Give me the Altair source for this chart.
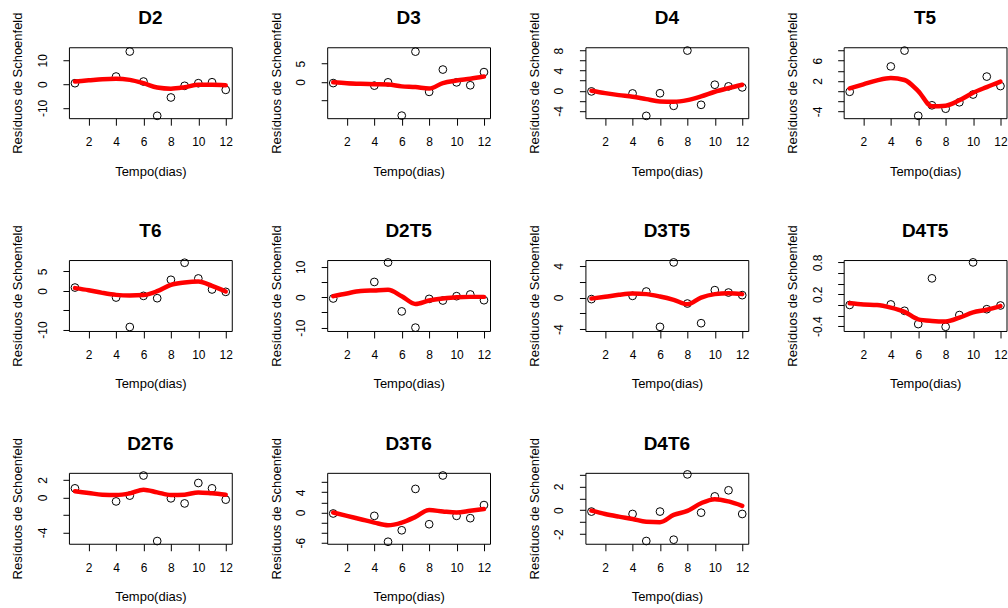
import altair as alt
import pandas as pd

# Tempo (dias) dos eventos e grade da curva suavizada
tempo = [1, 4, 5, 6, 7, 8, 9, 10, 11, 12]
tempo_fit = [1, 2, 3, 4, 5, 6, 7, 8, 9, 10, 11, 12]
eixo_x = [2, 4, 6, 8, 10, 12]

# Resíduos de Schoenfeld (pontos) e curva suavizada (linha vermelha) por covariável
res_d2 = [0.4, 3.2, 13.7, 1.1, -13.3, -5.6, -0.7, 0.4, 0.8, -2.4]
fit_d2 = [1.1, 1.6, 2.1, 2.3, 1.8, 0.4, -1.4, -1.9, -1.3, -0.3, -0.3, -0.5]

res_d3 = [-0.3, -1.0, -0.1, -9.2, 8.3, -2.7, 3.4, -0.1, -0.9, 2.7]
fit_d3 = [-0.1, -0.35, -0.5, -0.6, -0.7, -1.2, -1.4, -1.8, -0.3, 0.4, 0.9, 1.5]

res_d4 = [-0.13, -0.53, -5.0, -0.5, -3.0, 8.0, -2.8, 1.2, 0.87, 0.67]
fit_d4 = [0.0, -0.47, -0.87, -1.2, -1.67, -2.13, -2.2, -1.87, -1.13, -0.2, 0.53, 1.2]

res_t5 = [-0.13, 4.87, 8.0, -4.87, -2.8, -3.47, -2.2, -0.67, 2.87, 1.0]
fit_t5 = [0.53, 1.33, 2.13, 2.6, 2.2, 0.0, -3.0, -2.87, -1.8, -0.33, 0.8, 1.87]

res_t6 = [0.85, -1.73, -9.33, -1.3, -1.9, 2.85, 7.25, 3.2, 0.35, -0.26]
fit_t6 = [0.7, 0.17, -0.52, -1.04, -1.2, -1.1, -0.1, 1.55, 2.15, 2.4, 1.3, -0.17]

res_d2t5 = [-0.43, 5.0, 11.4, -4.67, -10.0, -0.56, -1.1, 0.33, 0.9, -1.0]
fit_d2t5 = [0.33, 1.23, 2.0, 2.23, 2.43, 0.3, -2.23, -1.1, -0.43, 0.0, 0.1, 0.1]

res_d3t5 = [-0.2, 0.21, 0.76, -3.7, 4.43, -0.76, -3.24, 0.93, 0.63, 0.3]
fit_d3t5 = [-0.13, 0.09, 0.34, 0.5, 0.43, 0.13, -0.29, -0.84, 0.0, 0.43, 0.55, 0.43]

res_d4t5 = [0.0, 0.01, -0.11, -0.36, 0.5, -0.41, -0.19, 0.8, -0.08, -0.01]
fit_d4t5 = [0.03, 0.01, 0.0, -0.05, -0.13, -0.27, -0.30, -0.31, -0.24, -0.14, -0.09, -0.02]

res_d2t6 = [1.03, -0.46, 0.2, 2.49, -4.98, -0.11, -0.69, 1.64, 1.03, -0.26]
fit_d2t6 = [0.69, 0.5, 0.31, 0.27, 0.46, 0.88, 0.57, 0.27, 0.31, 0.57, 0.46, 0.31]

res_d3t6 = [-0.2, -0.67, -5.8, -3.53, 4.67, -2.33, 7.33, -0.67, -1.13, 1.47]
fit_d3t6 = [0.0, -0.67, -1.33, -2.0, -2.53, -2.0, -0.87, 0.47, 0.2, 0.0, 0.33, 0.67]

res_d4t6 = [-0.11, -0.31, -2.57, -0.11, -2.46, 3.0, -0.2, 1.16, 1.67, -0.31]
fit_d4t6 = [-0.03, -0.31, -0.53, -0.73, -0.96, -1.0, -0.39, -0.05, 0.59, 0.93, 0.74, 0.37]

# Limites do eixo y, marcas e rótulos exibidos em cada painel
lim_y = {
    "D2": [-14.3, 15.5], "D3": [-9.9, 9.5], "D4": [-5.46, 8.66], "T5": [-5.34, 8.66],
    "T6": [-10.36, 7.95], "D2T5": [-11.1, 12.2], "D3T5": [-4.22, 4.73],
    "D4T5": [-0.489, 0.844], "D2T6": [-5.29, 2.8], "D3T6": [-6.2, 7.86], "D4T6": [-2.8, 3.13],
}
marcas_y = {
    "D2": [-10, 0, 10], "D3": [-10, -5, 0, 5], "D4": [-4, -2, 0, 2, 4, 6, 8],
    "T5": [-4, -2, 0, 2, 4, 6, 8], "T6": [-10, -5, 0, 5], "D2T5": [-10, -5, 0, 5, 10],
    "D3T5": [-4, -2, 0, 2, 4], "D4T5": [-0.4, -0.2, 0, 0.2, 0.4, 0.6, 0.8],
    "D2T6": [-4, -2, 0, 2], "D3T6": [-6, -4, -2, 0, 2, 4, 6], "D4T6": [-2, -1, 0, 1, 2, 3],
}
rotulos_y = {
    "D2": [-10, 0, 10], "D3": [-10, 0, 5], "D4": [-4, 0, 4, 8], "T5": [-4, 2, 6],
    "T6": [-10, 0, 5], "D2T5": [-10, 0, 10], "D3T5": [-4, 0, 4], "D4T5": [-0.4, 0.2, 0.8],
    "D2T6": [-4, 0, 2], "D3T6": [-6, 0, 4], "D4T6": [-2, 0, 2],
}

paineis = [
    ("D2", res_d2, fit_d2), ("D3", res_d3, fit_d3), ("D4", res_d4, fit_d4),
    ("T5", res_t5, fit_t5), ("T6", res_t6, fit_t6), ("D2T5", res_d2t5, fit_d2t5),
    ("D3T5", res_d3t5, fit_d3t5), ("D4T5", res_d4t5, fit_d4t5),
    ("D2T6", res_d2t6, fit_d2t6), ("D3T6", res_d3t6, fit_d3t6), ("D4T6", res_d4t6, fit_d4t6),
]

FONTE = "Liberation Sans"
LARGURA, ALTURA = 163, 71


def painel(nome, res, fit):
    pontos = pd.DataFrame({"tempo": tempo, "residuo": res})
    curva = pd.DataFrame({"tempo": tempo_fit, "residuo": fit})
    titulo = pd.DataFrame({"titulo": [nome]})

    esc_x = alt.Scale(domain=[0.56, 12.44], nice=False, zero=False)
    esc_y = alt.Scale(domain=lim_y[nome], nice=False, zero=False)

    cond = " || ".join(f"abs(datum.value - ({v})) < 1e-9" for v in rotulos_y[nome])
    eixo_y = alt.Axis(
        values=marcas_y[nome], title="Resíduos de Schoenfeld", grid=False, domain=False,
        tickSize=6, tickColor="black", labelAngle=-90, labelAlign="center",
        labelBaseline="middle", labelPadding=20.5, labelExpr=f"({cond}) ? '' + datum.value : ''",
        labelOverlap=False, labelFlush=False, titleX=-47, titleAngle=-90,
        titleBaseline="alphabetic", titleAlign="center",
    )
    eixo_xx = alt.Axis(
        values=eixo_x, title="Tempo(dias)", grid=False, domain=False, tickSize=7,
        tickColor="black", labelBaseline="middle", labelPadding=16.5, labelOverlap=False,
        labelFlush=False, titleY=57, titleBaseline="alphabetic",
    )

    base_x = alt.X("tempo:Q", scale=esc_x, axis=eixo_xx)
    base_y = alt.Y("residuo:Q", scale=esc_y, axis=eixo_y)

    pts = alt.Chart(pontos).mark_point(
        shape="circle", filled=False, color="black", size=60, strokeWidth=1, opacity=1
    ).encode(x=base_x, y=base_y)

    linha = alt.Chart(curva).mark_line(
        color="#FF0000", strokeWidth=4.5, interpolate="monotone", strokeCap="round",
        strokeJoin="round",
    ).encode(x=base_x, y=base_y)

    # título do painel, centrado sobre a área do gráfico
    cab = alt.Chart(titulo).mark_text(
        font=FONTE, fontSize=19, fontWeight="bold", color="black",
        align="center", baseline="alphabetic",
    ).encode(text="titulo:N", x=alt.value(LARGURA / 2), y=alt.value(-23))

    return alt.layer(pts, linha, cab).properties(width=LARGURA, height=ALTURA)


grade = alt.concat(
    *[painel(n, r, f) for n, r, f in paineis],
    columns=4, spacing={"row": 142, "column": 95.5}, bounds="flush",
)

chart = grade.properties(
    padding={"left": 11, "top": 8, "right": 0, "bottom": 0}, background="white"
).configure_view(
    stroke="black", strokeWidth=1
).configure_axis(
    labelFont=FONTE, titleFont=FONTE, labelFontSize=12, titleFontSize=13,
    labelColor="black", titleColor="black", titleFontWeight="normal",
)

chart.save("out.html", embed_options={"renderer": "svg", "actions": False})
